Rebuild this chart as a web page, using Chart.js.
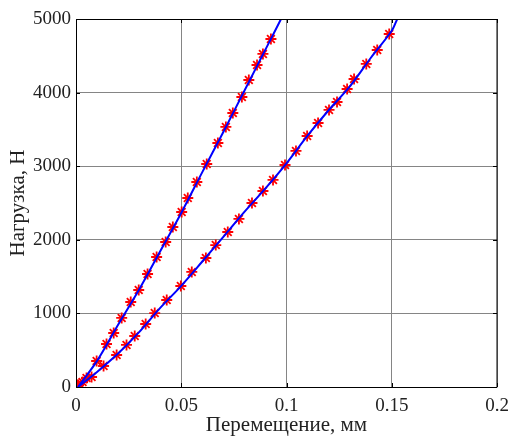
<!DOCTYPE html>
<html>
<head>
<meta charset="utf-8">
<script src="https://cdn.jsdelivr.net/npm/chart.js@4"></script>
<style>
  html, body { margin: 0; padding: 0; background: #fff; }
  #wrap { width: 509px; height: 436px; }
</style>
</head>
<body>
<div id="wrap"><canvas id="myChart" width="509" height="436"></canvas></div>
<script>
// markers, steep curve
const steepX = [0, 0.0005, 0.0012, 0.0050, 0.0098, 0.0145, 0.0179, 0.0217, 0.0260, 0.0298, 0.0340,
                0.0383, 0.0426, 0.0460, 0.0502, 0.0531, 0.0574, 0.0621, 0.0674, 0.0712, 0.0745,
                0.0788, 0.0821, 0.0860, 0.0888, 0.0926];
const steepY = [0, 10, 27, 122, 353, 584, 734, 938, 1155, 1318, 1535,
                1766, 1970, 2174, 2378, 2568, 2785, 3030, 3315, 3533, 3723,
                3940, 4171, 4375, 4525, 4728];

// markers, flat curve
const flatX = [0, 0.0007, 0.0031, 0.0074, 0.0131, 0.0193, 0.0240, 0.0279, 0.0331, 0.0374, 0.0431,
               0.0498, 0.0550, 0.0617, 0.0664, 0.0721, 0.0774, 0.0836, 0.0888, 0.0936, 0.0993,
               0.1045, 0.1098, 0.1150, 0.1202, 0.1240, 0.1288, 0.1321, 0.1379, 0.1431, 0.1488];
const flatY = [0, 27, 68, 136, 285, 435, 571, 693, 856, 1005, 1182,
               1372, 1563, 1753, 1929, 2106, 2283, 2500, 2663, 2813, 3016,
               3207, 3410, 3587, 3764, 3872, 4049, 4185, 4389, 4579, 4796];

// blue fitted lines
const steepLineX = [0.001, 0.01, 0.02, 0.03, 0.04, 0.05, 0.06, 0.07, 0.08, 0.09, 0.0974, 0.1];
const steepLineY = [0, 355, 845, 1325, 1845, 2365, 2920, 3465, 4025, 4585, 5000, 5160];
const flatLineX = [0.001, 0.01, 0.02, 0.03, 0.04, 0.05, 0.06, 0.07, 0.08, 0.09, 0.1,
                   0.11, 0.12, 0.13, 0.14, 0.15, 0.1526, 0.155];
const flatLineY = [0, 205, 455, 745, 1075, 1375, 1705, 2040, 2380, 2700, 3040,
                   3415, 3760, 4080, 4470, 4840, 5000, 5150];

const xTicks = [0, 0.05, 0.1, 0.15, 0.2];
const yTicks = [0, 1000, 2000, 3000, 4000, 5000];

function pts(xs, ys) {
    return xs.map((x, i) => ({ x: x, y: ys[i] }));
}

const FONT = "'Liberation Serif', 'Times New Roman', serif";

// box + inward ticks like matlab
const boxPlugin = {
    id: 'box',
    afterDatasetsDraw(chart) {
        const ctx = chart.ctx;
        const a = chart.chartArea;
        const xs = chart.scales.x, ys = chart.scales.y;
        ctx.save();
        ctx.strokeStyle = '#000';
        ctx.lineWidth = 1;
        ctx.beginPath();
        ctx.rect(Math.round(a.left) + 0.5, Math.round(a.top) + 0.5,
                 Math.round(a.right - a.left) - 0.5, Math.round(a.bottom - a.top));
        const L = 4;
        xTicks.forEach(v => {
            const px = Math.round(xs.getPixelForValue(v)) + 0.5;
            ctx.moveTo(px, a.bottom); ctx.lineTo(px, a.bottom - L);
            ctx.moveTo(px, a.top); ctx.lineTo(px, a.top + L);
        });
        yTicks.forEach(v => {
            const py = Math.round(ys.getPixelForValue(v)) + 0.5;
            ctx.moveTo(a.left, py); ctx.lineTo(a.left + L, py);
            ctx.moveTo(a.right, py); ctx.lineTo(a.right - L, py);
        });
        ctx.stroke();
        ctx.restore();
    }
};

const ctx = document.getElementById('myChart').getContext('2d');
new Chart(ctx, {
    type: 'scatter',
    data: {
        datasets: [
            { data: pts(steepLineX, steepLineY), showLine: true, borderColor: '#0000ff', borderWidth: 2,
              pointRadius: 0, tension: 0.3, order: 0 },
            { data: pts(flatLineX, flatLineY), showLine: true, borderColor: '#0000ff', borderWidth: 2,
              pointRadius: 0, tension: 0.3, order: 0 },
            { data: pts(steepX, steepY), showLine: false, pointStyle: 'star', pointRadius: 5.5,
              borderColor: '#ff0000', backgroundColor: '#ff0000', pointBorderWidth: 1.8, order: 1 },
            { data: pts(flatX, flatY), showLine: false, pointStyle: 'star', pointRadius: 5.5,
              borderColor: '#ff0000', backgroundColor: '#ff0000', pointBorderWidth: 1.8, order: 1 }
        ]
    },
    options: {
        responsive: false,
        animation: false,
        events: [],
        layout: { padding: { left: 0, right: 12, top: 19, bottom: 0 } },
        plugins: { legend: { display: false }, tooltip: { enabled: false } },
        scales: {
            x: {
                type: 'linear', min: 0, max: 0.2,
                afterFit(s) { s.height = 49; s.paddingLeft = 0; s.paddingRight = 0; },
                afterBuildTicks(s) { s.ticks = xTicks.map(v => ({ value: v })); },
                grid: { color: '#858585', lineWidth: 1, drawTicks: false },
                border: { display: false },
                ticks: { padding: 8, color: '#222', font: { family: FONT, size: 19 },
                         maxRotation: 0, callback: v => String(+v.toFixed(2)) },
                title: { display: true, text: 'Перемещение, мм', color: '#222',
                         font: { family: FONT, size: 21, lineHeight: 1 }, padding: 0 }
            },
            y: {
                type: 'linear', min: 0, max: 5000,
                afterFit(s) { s.width = 76; s.paddingTop = 0; s.paddingBottom = 0; },
                afterBuildTicks(s) { s.ticks = yTicks.map(v => ({ value: v })); },
                grid: { color: '#858585', lineWidth: 1, drawTicks: false },
                border: { display: false },
                ticks: { padding: 5, color: '#222', font: { family: FONT, size: 19 },
                         callback: v => String(v) },
                title: { display: true, text: 'Нагрузка, Н', color: '#222',
                         font: { family: FONT, size: 21, lineHeight: 1.2 }, padding: { top: 6 } }
            }
        }
    },
    plugins: [boxPlugin]
});
</script>
</body>
</html>
